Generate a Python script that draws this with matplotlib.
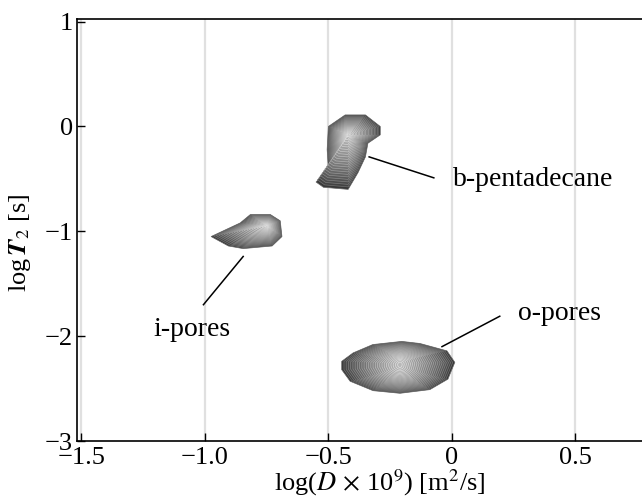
import numpy as np
import matplotlib
matplotlib.use('Agg')
import matplotlib.pyplot as plt

plt.rcParams['font.family'] = ['Liberation Serif', 'DejaVu Serif']
plt.rcParams['mathtext.fontset'] = 'stix'

###############################################################################
# Data (log D, log T2)
# outline of each peak and the position of its maximum
bpd_x = [-0.50, -0.432, -0.35, -0.29, -0.29, -0.34, -0.35, -0.38, -0.42, -0.52, -0.55, -0.50, -0.505]
bpd_y = [0.00, 0.11, 0.11, 0.00, -0.08, -0.16, -0.29, -0.44, -0.60, -0.58, -0.53, -0.41, -0.22]
bpd_peak = (-0.42, -0.08)

ipo_x = [-0.975, -0.857, -0.816, -0.735, -0.695, -0.688, -0.728, -0.845, -0.905]
ipo_y = [-1.05, -0.92, -0.84, -0.84, -0.90, -1.05, -1.14, -1.165, -1.14]
ipo_peak = (-0.75, -0.95)

opo_x = [-0.446, -0.446, -0.412, -0.319, -0.21, -0.089, -0.016, 0.012, -0.02, -0.129, -0.203, -0.32, -0.40]
opo_y = [-2.24, -2.32, -2.43, -2.52, -2.545, -2.51, -2.41, -2.25, -2.14, -2.07, -2.05, -2.08, -2.16]
opo_peak = (-0.21, -2.27)

# annotations: label, text position, line start, line end
labels = ['b-pentadecane', 'i-pores', 'o-pores']
label_xy = [(0.004, -0.51), (-1.052, -1.94), (0.267, -1.78)]
line_from = [(-0.335, -0.29), (-0.845, -1.24), (-0.04, -2.10)]
line_to = [(-0.073, -0.49), (-1.006, -1.70), (0.194, -1.81)]

xticks = [-1.5, -1.0, -0.5, 0, 0.5]
xticklabels = ['\u22121.5', '\u22121.0', '\u22120.5', '0', '0.5']
yticks = [1, 0, -1, -2, -3]
yticklabels = ['1', '0', '\u22121', '\u22122', '\u22123']
###############################################################################


def draw_peak(ax, xs, ys, peak, nlev=22, squash=1.0):
    xs = np.asarray(xs)
    ys = np.asarray(ys)
    px, py = peak
    for i, s in enumerate(np.linspace(1.0, 0.04, nlev)):
        sy = s ** squash
        g = 0.22 + 0.5 * (i / (nlev - 1)) ** 0.8
        edge = min(g + 0.18, 0.95)
        ax.fill(px + s * (xs - px), py + sy * (ys - py),
                facecolor=(g, g, g), edgecolor=(edge, edge, edge),
                linewidth=0.5, zorder=3 + i * 0.01)


fs = 19
fig = plt.figure(figsize=(6.42, 5.0), dpi=100)
ax = fig.add_axes([77 / 642, 59 / 500, 565 / 642, 422 / 500])

for xv in xticks:
    ax.axvline(xv, color='#e0e0e0', linewidth=1.6, zorder=1)

draw_peak(ax, bpd_x, bpd_y, bpd_peak)
draw_peak(ax, ipo_x, ipo_y, ipo_peak)
draw_peak(ax, opo_x, opo_y, opo_peak, nlev=26, squash=0.7)

for lab, txy, p0, p1 in zip(labels, label_xy, line_from, line_to):
    ax.plot([p0[0], p1[0]], [p0[1], p1[1]], color='black', linewidth=1.1, zorder=5)
    ha = 'center' if lab == 'i-pores' else 'left'
    ax.text(txy[0], txy[1], lab, fontsize=20, ha=ha, va='center', zorder=6)

ax.set_xlim(-1.518, 0.77)
ax.set_ylim(-3, 1.025)
ax.set_xticks(xticks)
ax.set_xticklabels(xticklabels)
ax.set_yticks(yticks)
ax.set_yticklabels(yticklabels)
ax.tick_params(direction='in', length=6, width=1, labelsize=fs, pad=3)
ax.tick_params(axis='x', pad=4)
ax.spines['right'].set_visible(False)
for sp in ['left', 'bottom', 'top']:
    ax.spines[sp].set_linewidth(1.2)

ax.set_xlabel(r'log($D$$\,\times\,$10$^9$) [m$^2$/s]', fontsize=fs)
ax.xaxis.set_label_coords(0.535, -0.062)
ax.set_ylabel(r'log$\,\mathbfit{T}$$_2$ [s]', fontsize=fs)
ax.yaxis.set_label_coords(-0.078, 0.47)

fig.savefig('out.png', dpi=100)
